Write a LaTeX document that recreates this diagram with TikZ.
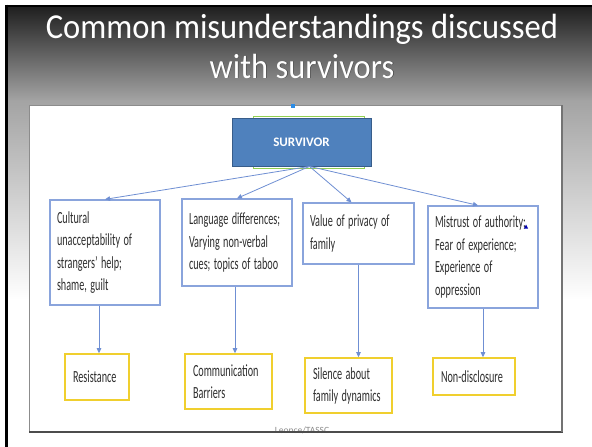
\documentclass[tikz,border=0pt]{standalone}
\usepackage{fontspec}
\setmainfont{Carlito}
\newfontfamily\titlefont[FakeStretch=0.93]{Carlito}
\usetikzlibrary{arrows.meta,calc}

% narrow set lines, as in the boxes
\newcommand\narrowline[1]{\scalebox{0.6}[1]{#1}}

\definecolor{survfill}{HTML}{4F81BD}
\definecolor{survedge}{HTML}{385D8A}
\definecolor{causeblue}{HTML}{8AA4DC}
\definecolor{effectgold}{HTML}{F0CF2E}
\definecolor{linkblue}{HTML}{6F8FD3}
\definecolor{textgray}{HTML}{2E2E2E}
\definecolor{handleblue}{HTML}{2B8CE6}
\definecolor{leafgreen}{HTML}{92D050}

\tikzset{
  causebox/.style={draw=causeblue, line width=1.3pt, fill=white, align=left,
    inner xsep=7pt, inner ysep=0pt, text=textgray,
    font=\fontsize{17}{22.5}\selectfont},
  effectbox/.style={draw=effectgold, line width=1.6pt, fill=white, align=left,
    inner xsep=8pt, inner ysep=0pt, text=textgray,
    font=\fontsize{17}{22}\selectfont},
  link/.style={draw=linkblue, line width=0.8pt,
    -{Triangle[length=5pt,width=4.5pt]}},
  titletext/.style={text=white, anchor=base, inner sep=0pt,
    font=\titlefont\fontsize{35}{40}\selectfont},
  titleshadow/.style={titletext, text=black!75}
}

\begin{document}
\begin{tikzpicture}[x=1pt,y=-1pt]
\useasboundingbox (0,0) rectangle (592,447);

% slide background with its dark top fading to white
\fill[white] (0,0) rectangle (592,447);
\shade[top color=black!88, bottom color=black!36] (7,6) rectangle (592,100.5);
\shade[top color=black!36, bottom color=white] (7,100) rectangle (592,300);
\draw[black, line width=2.5pt] (6.5,4.5) -- (6.5,447);
\draw[black, line width=2pt] (5.5,6) -- (592,6);

% title, white letters with a dark edge
\node[titleshadow] (title1s) at (302.6,38.6) {Common misunderstandings discussed};
\node[titleshadow] (title2s) at (302.6,78.6) {with survivors};
\node[titletext] (title1) at (302,38) {Common misunderstandings discussed};
\node[titletext] (title2) at (302,78) {with survivors};

% diagram panel
\draw[fill=white, draw=black!45, line width=0.8pt] (29,105) rectangle (562,432);
\node[text=black!45, anchor=base, inner sep=0pt,
      font=\fontsize{9.5}{10}\selectfont] (credit) at (302,433) {Leonce/TASSC};
\draw[black!70, line width=2pt] (29,432) -- (563,432);
\draw[black!55, line width=1.2pt] (562,105) -- (562,432);

% central node
\draw[leafgreen, line width=1pt] (253,116) rectangle (364,168);
\node[draw=survedge, line width=0.8pt, fill=survfill, text=white,
      minimum width=139pt, minimum height=48pt, inner sep=0pt,
      font=\bfseries\fontsize{13}{15}\selectfont] (sv) at (301.5,142) {SURVIVOR};
\fill[handleblue] (291,104) rectangle (295,108);

% cultural factors
\node[causebox, text width=96pt, minimum height=105pt] (b1) at (105,252.5)
  {\narrowline{Cultural}\\\narrowline{unacceptability of}\\\narrowline{strangers' help;}\\\narrowline{shame, guilt}};
\node[causebox, text width=96pt, minimum height=87pt] (b2) at (237,242.5)
  {\narrowline{Language differences;}\\\narrowline{Varying non-verbal}\\\narrowline{cues; topics of taboo}};
\node[causebox, text width=97pt, minimum height=61pt] (b3) at (358.5,233.5)
  {\narrowline{Value of privacy of}\\\narrowline{family}};
\node[causebox, text width=96pt, minimum height=102pt] (b4) at (483,257)
  {\narrowline{Mistrust of authority;}\\\narrowline{Fear of experience;}\\\narrowline{Experience of}\\\narrowline{oppression}};
\fill[blue!70!black] (524,228.5) -- (528,228.5) -- (526,224.5) -- cycle;

% resulting behaviours
\node[effectbox, text width=48pt, minimum height=46pt] (c1) at (97,377)
  {\narrowline{Resistance}};
\node[effectbox, text width=71pt, minimum height=55pt] (c2) at (228.5,381.5)
  {\narrowline{Communication}\\\narrowline{Barriers}};
\node[effectbox, text width=71pt, minimum height=55pt] (c3) at (348.5,385.5)
  {\narrowline{Silence about}\\\narrowline{family dynamics}};
\node[effectbox, text width=66pt, minimum height=37pt] (c4) at (474,376.5)
  {\narrowline{Non-disclosure}};

% connectors from the survivor to each factor
\coordinate (hub) at ([xshift=8pt]sv.south);
\draw[link] (hub) -- (b1.north);
\draw[link] (hub) -- (b2.north);
\draw[link] (hub) -- ([xshift=-7pt]b3.north);
\draw[link] (hub) -- ([xshift=-5pt]b4.north);

% connectors from each factor to its outcome
\draw[link] ([xshift=-6pt]b1.south) -- ([xshift=-6pt]b1.south |- c1.north);
\draw[link] ([xshift=-2pt]b2.south) -- ([xshift=-2pt]b2.south |- c2.north);
\draw[link] (b3.south) -- (b3.south |- c3.north);
\draw[link] (b4.south) -- (b4.south |- c4.north);
\end{tikzpicture}
\end{document}
